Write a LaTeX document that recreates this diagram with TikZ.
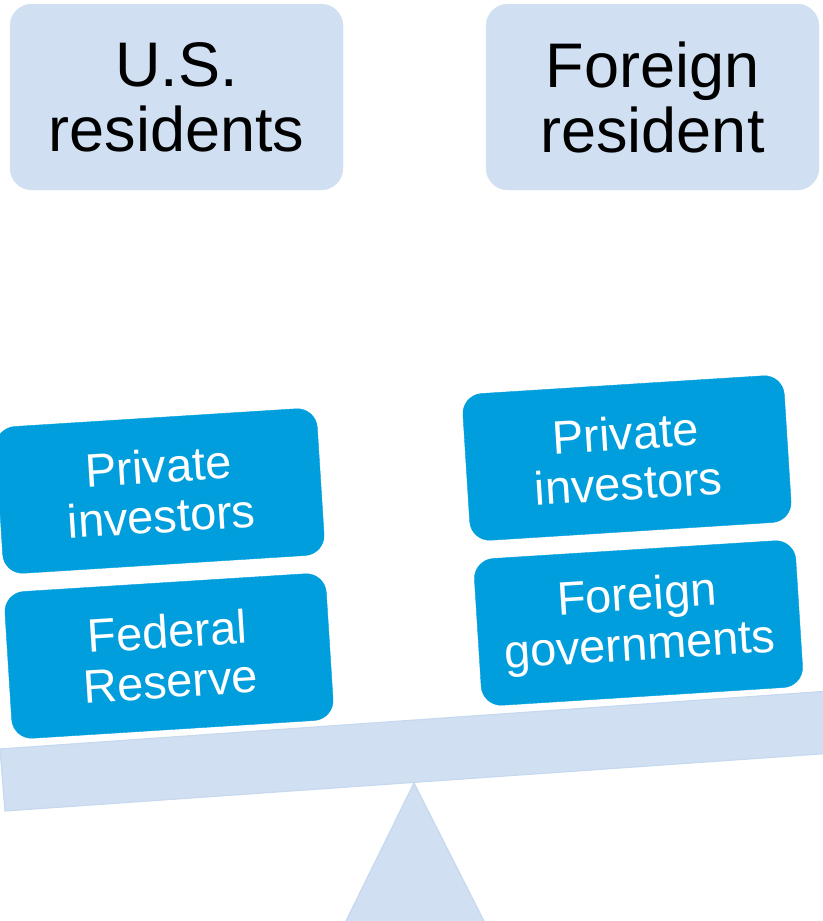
\documentclass[tikz,border=0pt]{standalone}
\usepackage{fontspec}
\setmainfont{Liberation Sans}

\definecolor{paleblue}{HTML}{D0E0F2}
\definecolor{paleedge}{HTML}{C6D9EF}
\definecolor{boxblue}{HTML}{009EDD}

\tikzset{
    group/.style={fill=paleblue, draw=paleblue, rounded corners=22pt,
        minimum width=333pt, minimum height=186pt, align=center,
        font=\fontsize{63}{65}\selectfont, text=black},
    holder/.style={fill=boxblue, draw=boxblue, rounded corners=20pt,
        minimum width=322pt, minimum height=147pt, align=center,
        font=\fontsize{47}{50}\selectfont, text=white},
    beam/.style={fill=paleblue, draw=paleedge, line width=1.2pt, line join=round}
}

\begin{document}
\begin{tikzpicture}[x=1pt, y=-1pt]
    \useasboundingbox (0,0) rectangle (822,921);
    \def\tilt{3.6} % slope of the beam, in degrees

    % the two sides
    \node[group] (us) at (176.5,97) {U.S.\\residents};
    \node[group] (foreign) at (652.5,97) {Foreign\\resident};

    % pivot and beam
    \draw[beam] (414,783) -- (486,925) -- (344,925) -- cycle;
    \draw[beam] (0,749) -- (830,691) -- (834,753) -- (5,811) -- cycle;

    % holders on the left end
    \node[holder, rotate=\tilt] (usprivate) at (160,491) {Private\\investors};
    \node[holder, rotate=\tilt] (fed) at (169,656) {Federal\\Reserve};

    % holders on the right end
    \node[holder, rotate=\tilt] (fprivate) at (627,458) {Private\\investors};
    \node[holder, rotate=\tilt] (govts) at (638.5,623) {Foreign\\governments};

\end{tikzpicture}
\end{document}
